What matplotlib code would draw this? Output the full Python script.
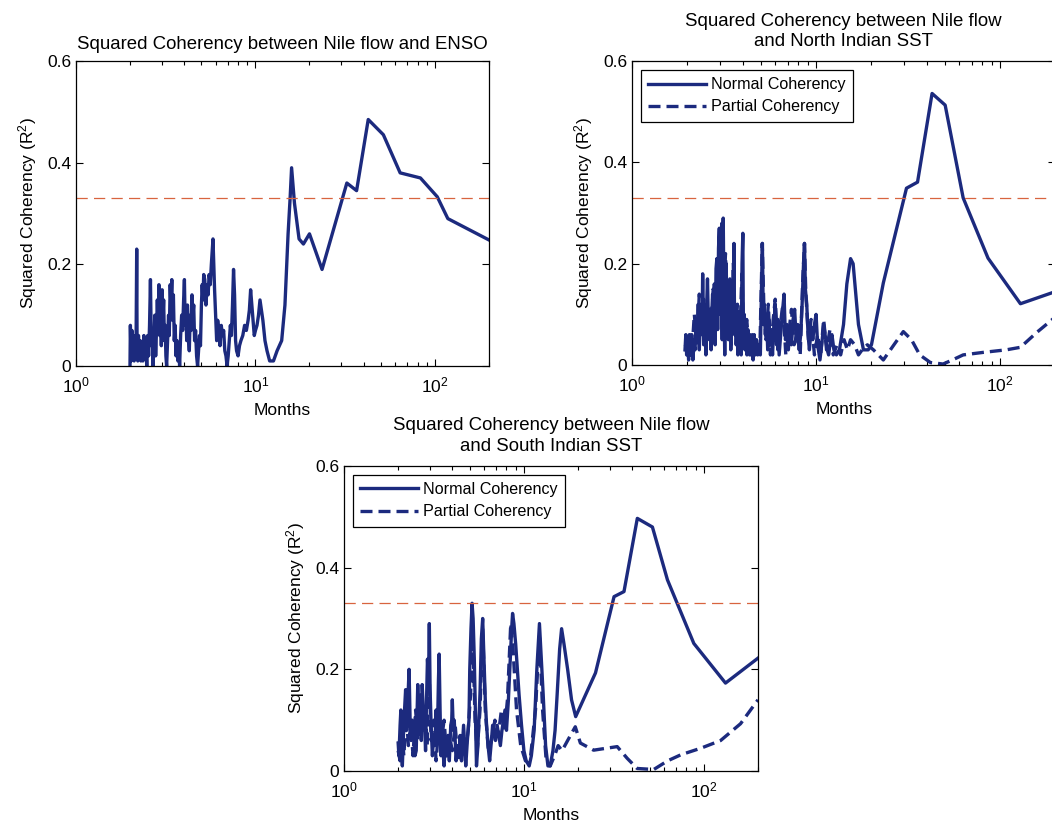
import matplotlib
matplotlib.use("Agg")
import matplotlib.pyplot as plt

plt.rcParams['font.family'] = ['Liberation Sans', 'DejaVu Sans']
plt.rcParams['mathtext.fontset'] = 'custom'
plt.rcParams['mathtext.rm'] = 'Liberation Sans'
plt.rcParams['mathtext.it'] = 'Liberation Sans'

NAVY = '#1c2a7e'
RED = '#d8643f'
SIG_LEVEL = 0.33

# (period in months, squared coherency)
# Nile flow vs ENSO
enso = [(2.00, 0.0), (2.01, 0.08), (2.03, 0.01), (2.05, 0.07), (2.07, 0.02), (2.09, 0.06),
        (2.11, 0.01), (2.13, 0.05), (2.16, 0.02), (2.18, 0.23), (2.19, 0.05), (2.21, 0.01),
        (2.23, 0.06), (2.25, 0.02), (2.28, 0.05), (2.30, 0.01), (2.33, 0.04), (2.36, 0.01),
        (2.39, 0.06), (2.42, 0.02), (2.45, 0.04), (2.48, 0.0), (2.51, 0.06), (2.54, 0.02),
        (2.57, 0.08), (2.60, 0.17), (2.63, 0.04), (2.66, 0.07), (2.69, 0.0), (2.72, 0.05),
        (2.75, 0.10), (2.78, 0.02), (2.81, 0.07), (2.84, 0.13), (2.87, 0.08), (2.90, 0.16),
        (2.93, 0.06), (2.96, 0.12), (2.99, 0.04), (3.02, 0.15), (3.05, 0.09), (3.08, 0.13),
        (3.11, 0.05), (3.14, 0.08), (3.17, 0.02), (3.20, 0.0), (3.24, 0.05), (3.28, 0.10),
        (3.31, 0.06), (3.35, 0.16), (3.38, 0.12), (3.42, 0.17), (3.45, 0.09), (3.49, 0.14),
        (3.53, 0.05), (3.57, 0.08), (3.61, 0.02), (3.65, 0.05), (3.70, 0.01), (3.74, 0.04),
        (3.78, 0.0), (3.83, 0.06), (3.88, 0.10), (3.93, 0.07), (3.98, 0.13), (4.02, 0.17),
        (4.06, 0.08), (4.10, 0.11), (4.14, 0.05), (4.18, 0.12), (4.23, 0.06), (4.28, 0.03),
        (4.33, 0.10), (4.38, 0.07), (4.43, 0.14), (4.48, 0.10), (4.53, 0.12), (4.58, 0.05),
        (4.64, 0.07), (4.70, 0.02), (4.76, 0.0), (4.82, 0.03), (4.88, 0.06), (4.94, 0.04),
        (5.00, 0.12), (5.05, 0.16), (5.10, 0.13), (5.15, 0.18), (5.22, 0.17), (5.30, 0.12),
        (5.38, 0.16), (5.45, 0.14), (5.52, 0.18), (5.60, 0.16), (5.68, 0.20), (5.75, 0.23),
        (5.80, 0.25), (5.85, 0.21), (5.92, 0.15), (6.00, 0.10), (6.08, 0.05), (6.16, 0.09),
        (6.25, 0.07), (6.35, 0.04), (6.45, 0.08), (6.55, 0.06), (6.65, 0.07), (6.75, 0.03),
        (6.85, 0.02), (6.95, 0.0), (7.05, 0.02), (7.15, 0.05), (7.25, 0.08), (7.35, 0.06),
        (7.45, 0.12), (7.55, 0.19), (7.65, 0.14), (7.75, 0.05), (7.85, 0.03), (8.0, 0.02),
        (8.15, 0.04), (8.3, 0.05), (8.5, 0.06), (8.7, 0.08), (8.9, 0.07), (9.1, 0.09),
        (9.25, 0.11), (9.4, 0.15), (9.55, 0.12), (9.7, 0.09), (9.85, 0.06), (10.0, 0.07),
        (10.2, 0.08), (10.4, 0.10), (10.6, 0.13), (10.8, 0.11), (11.0, 0.09), (11.3, 0.05),
        (11.6, 0.03), (12.0, 0.01), (12.6, 0.01), (13.2, 0.03), (14.0, 0.05), (14.6, 0.12),
        (15.2, 0.26), (15.6, 0.33), (15.9, 0.39), (16.5, 0.32), (17.5, 0.25), (18.5, 0.24),
        (20.0, 0.26), (23.5, 0.19), (32.3, 0.36), (36.6, 0.345), (42.5, 0.485), (51.6, 0.455),
        (64, 0.38), (83, 0.37), (103, 0.333), (118, 0.29), (200, 0.248)]

# Nile flow vs North Indian SST
ni_normal = [(1.94, 0.03), (1.96, 0.06), (1.98, 0.02), (2.00, 0.05), (2.03, 0.01), (2.05, 0.06),
             (2.08, 0.02), (2.11, 0.06), (2.14, 0.01), (2.17, 0.04), (2.20, 0.03), (2.23, 0.09),
             (2.26, 0.05), (2.29, 0.12), (2.32, 0.03), (2.34, 0.08), (2.37, 0.12), (2.40, 0.06),
             (2.42, 0.18), (2.45, 0.04), (2.47, 0.12), (2.49, 0.10), (2.52, 0.02), (2.55, 0.13),
             (2.57, 0.17), (2.60, 0.08), (2.63, 0.05), (2.66, 0.11), (2.69, 0.03), (2.71, 0.10),
             (2.74, 0.14), (2.77, 0.06), (2.80, 0.16), (2.83, 0.04), (2.86, 0.19), (2.89, 0.21),
             (2.92, 0.07), (2.95, 0.23), (2.98, 0.27), (3.01, 0.10), (3.04, 0.16), (3.06, 0.20),
             (3.09, 0.05), (3.11, 0.24), (3.13, 0.29), (3.16, 0.12), (3.19, 0.02), (3.22, 0.15),
             (3.25, 0.20), (3.28, 0.06), (3.31, 0.12), (3.34, 0.05), (3.37, 0.10), (3.40, 0.17),
             (3.44, 0.03), (3.47, 0.12), (3.51, 0.08), (3.55, 0.15), (3.58, 0.24), (3.61, 0.06),
             (3.65, 0.10), (3.68, 0.04), (3.72, 0.08), (3.76, 0.02), (3.80, 0.10), (3.84, 0.03),
             (3.88, 0.06), (3.92, 0.02), (3.96, 0.20), (4.00, 0.26), (4.03, 0.05), (4.07, 0.10),
             (4.11, 0.03), (4.16, 0.08), (4.21, 0.02), (4.26, 0.07), (4.31, 0.03), (4.37, 0.06),
             (4.43, 0.02), (4.49, 0.05), (4.55, 0.01), (4.61, 0.06), (4.68, 0.02), (4.75, 0.05),
             (4.82, 0.02), (4.90, 0.04), (4.98, 0.02), (5.05, 0.15), (5.11, 0.24), (5.17, 0.08),
             (5.23, 0.12), (5.30, 0.06), (5.38, 0.10), (5.46, 0.03), (5.54, 0.09), (5.62, 0.04),
             (5.70, 0.07), (5.80, 0.02), (5.90, 0.08), (6.00, 0.12), (6.10, 0.04), (6.20, 0.09),
             (6.30, 0.02), (6.42, 0.06), (6.55, 0.10), (6.70, 0.14), (6.82, 0.05), (6.95, 0.08),
             (7.07, 0.03), (7.20, 0.07), (7.35, 0.04), (7.50, 0.09), (7.65, 0.11), (7.80, 0.05),
             (7.95, 0.08), (8.10, 0.03), (8.25, 0.06), (8.40, 0.12), (8.55, 0.20), (8.65, 0.24),
             (8.75, 0.15), (8.90, 0.12), (9.05, 0.06), (9.20, 0.03), (9.40, 0.07), (9.60, 0.05),
             (9.80, 0.08), (10.0, 0.10), (10.2, 0.04), (10.5, 0.01), (10.8, 0.05), (11.0, 0.08),
             (11.2, 0.06), (11.5, 0.03), (11.7, 0.02), (12.0, 0.05), (12.2, 0.06), (12.5, 0.03),
             (12.9, 0.02), (13.4, 0.03), (14.1, 0.08), (14.7, 0.16), (15.4, 0.21), (15.9, 0.20),
             (17.0, 0.08), (18.1, 0.03), (19.2, 0.03), (20.0, 0.04), (23.2, 0.162), (31, 0.349),
             (35.6, 0.361), (42.7, 0.536), (50.3, 0.513), (63, 0.33), (86, 0.211), (129, 0.121),
             (200, 0.145)]
ni_partial = [(1.95, 0.04), (2.0, 0.02), (2.05, 0.05), (2.12, 0.03), (2.18, 0.10), (2.25, 0.04),
              (2.32, 0.14), (2.38, 0.07), (2.45, 0.13), (2.52, 0.04), (2.6, 0.11), (2.68, 0.06),
              (2.76, 0.15), (2.84, 0.08), (2.92, 0.19), (3.0, 0.10), (3.08, 0.28), (3.14, 0.12),
              (3.22, 0.22), (3.3, 0.09), (3.38, 0.14), (3.46, 0.04), (3.55, 0.20), (3.64, 0.06),
              (3.74, 0.12), (3.84, 0.03), (3.95, 0.18), (4.05, 0.05), (4.2, 0.09), (4.35, 0.02),
              (4.5, 0.06), (4.65, 0.03), (4.8, 0.05), (4.95, 0.03), (5.1, 0.24), (5.2, 0.12),
              (5.35, 0.05), (5.5, 0.12), (5.65, 0.02), (5.85, 0.09), (6.0, 0.13), (6.2, 0.03),
              (6.4, 0.08), (6.6, 0.12), (6.85, 0.02), (7.1, 0.06), (7.35, 0.11), (7.6, 0.04),
              (7.9, 0.06), (8.2, 0.02), (8.45, 0.16), (8.65, 0.24), (8.8, 0.14), (9.1, 0.05),
              (9.4, 0.09), (9.8, 0.02), (10.2, 0.06), (10.6, 0.02), (11.0, 0.09), (11.4, 0.03),
              (11.9, 0.07), (12.4, 0.02), (13.0, 0.04), (13.6, 0.02), (14.2, 0.05), (14.8, 0.03),
              (15.4, 0.05), (16.2, 0.04), (17.0, 0.02), (17.8, 0.03), (19.0, 0.04), (20.5, 0.03),
              (23.2, 0.01), (26.5, 0.04), (29.8, 0.066), (33, 0.05), (36.6, 0.02), (41.8, 0.005),
              (49, 0.002), (55, 0.01), (63, 0.02), (81, 0.025), (108, 0.03), (129, 0.035),
              (159, 0.065), (200, 0.095)]

# Nile flow vs South Indian SST
si_normal = [(2.0, 0.055), (2.02, 0.03), (2.05, 0.09), (2.07, 0.12), (2.09, 0.04), (2.11, 0.01),
             (2.14, 0.07), (2.17, 0.12), (2.2, 0.16), (2.23, 0.08), (2.26, 0.13), (2.3, 0.20),
             (2.33, 0.10), (2.36, 0.06), (2.40, 0.10), (2.45, 0.08), (2.48, 0.03), (2.52, 0.04),
             (2.55, 0.12), (2.57, 0.17), (2.61, 0.09), (2.65, 0.14), (2.69, 0.06), (2.72, 0.17),
             (2.76, 0.12), (2.8, 0.10), (2.84, 0.04), (2.88, 0.15), (2.91, 0.22), (2.95, 0.18),
             (2.98, 0.29), (3.01, 0.16), (3.05, 0.09), (3.1, 0.03), (3.15, 0.07), (3.2, 0.05),
             (3.25, 0.12), (3.3, 0.06), (3.35, 0.18), (3.38, 0.23), (3.42, 0.12), (3.46, 0.03),
             (3.5, 0.09), (3.55, 0.04), (3.6, 0.01), (3.66, 0.06), (3.72, 0.03), (3.78, 0.07),
             (3.85, 0.02), (3.92, 0.09), (3.97, 0.10), (4.0, 0.14), (4.05, 0.08), (4.1, 0.10),
             (4.15, 0.06), (4.2, 0.02), (4.27, 0.05), (4.35, 0.03), (4.42, 0.07), (4.5, 0.02),
             (4.55, 0.05), (4.62, 0.09), (4.7, 0.04), (4.75, 0.01), (4.85, 0.06), (4.95, 0.10),
             (5.0, 0.20), (5.08, 0.28), (5.15, 0.33), (5.22, 0.30), (5.3, 0.22), (5.37, 0.12),
             (5.45, 0.01), (5.55, 0.05), (5.62, 0.10), (5.7, 0.15), (5.8, 0.26), (5.9, 0.30),
             (6.0, 0.22), (6.1, 0.14), (6.2, 0.09), (6.32, 0.05), (6.45, 0.02), (6.6, 0.06),
             (6.7, 0.09), (6.8, 0.08), (6.95, 0.06), (7.1, 0.09), (7.25, 0.07), (7.4, 0.05),
             (7.55, 0.08), (7.7, 0.10), (7.85, 0.12), (8.0, 0.08), (8.2, 0.14), (8.4, 0.22),
             (8.55, 0.28), (8.65, 0.31), (8.8, 0.29), (9.0, 0.25), (9.2, 0.20), (9.4, 0.15),
             (9.7, 0.09), (10.0, 0.04), (10.3, 0.02), (10.7, 0.01), (11.0, 0.03), (11.4, 0.08),
             (11.8, 0.20), (12.2, 0.29), (12.5, 0.22), (12.8, 0.15), (13.2, 0.05), (13.6, 0.01),
             (14.0, 0.01), (14.5, 0.04), (14.9, 0.08), (15.3, 0.15), (15.8, 0.24), (16.2, 0.28),
             (16.7, 0.25), (17.5, 0.20), (18.4, 0.14), (19.4, 0.107), (25, 0.193), (31.7, 0.343),
             (36, 0.353), (42.7, 0.497), (51.8, 0.48), (62.8, 0.376), (88, 0.251), (132, 0.173),
             (200, 0.222)]
si_partial = [(2.0, 0.04), (2.05, 0.02), (2.1, 0.08), (2.15, 0.03), (2.22, 0.11), (2.28, 0.05),
              (2.35, 0.09), (2.42, 0.03), (2.5, 0.12), (2.58, 0.06), (2.66, 0.15), (2.74, 0.08),
              (2.82, 0.13), (2.9, 0.05), (2.97, 0.20), (3.05, 0.06), (3.15, 0.10), (3.25, 0.02),
              (3.35, 0.08), (3.45, 0.05), (3.6, 0.10), (3.72, 0.03), (3.85, 0.07), (4.0, 0.04),
              (4.15, 0.09), (4.3, 0.02), (4.5, 0.06), (4.7, 0.03), (4.9, 0.08), (5.05, 0.15),
              (5.2, 0.27), (5.35, 0.10), (5.5, 0.04), (5.7, 0.12), (5.9, 0.28), (6.1, 0.12),
              (6.35, 0.04), (6.6, 0.06), (6.9, 0.10), (7.2, 0.07), (7.5, 0.12), (7.8, 0.08),
              (8.1, 0.14), (8.45, 0.29), (8.7, 0.24), (9.1, 0.12), (9.6, 0.05), (10.2, 0.02),
              (10.9, 0.03), (11.6, 0.12), (12.2, 0.27), (12.7, 0.12), (13.3, 0.02), (14.0, 0.01),
              (14.8, 0.03), (15.5, 0.05), (16.3, 0.04), (17.5, 0.06), (19.3, 0.087), (20.6, 0.055),
              (24.4, 0.041), (29, 0.045), (33, 0.048), (37.5, 0.025), (42.6, 0.005), (52.7, 0.003),
              (62.9, 0.02), (74.6, 0.032), (96.5, 0.045), (124, 0.06), (160, 0.093), (200, 0.14)]


def style_axes(ax, title, pad):
    ax.set_xscale('log')
    ax.set_xlim(1, 200)
    ax.set_ylim(0, 0.6)
    ax.set_yticks([0, 0.2, 0.4, 0.6])
    ax.set_yticklabels(['0', '0.2', '0.4', '0.6'])
    ax.set_xticks([1, 10, 100])
    ax.set_xticklabels(['$10^{0}$', '$10^{1}$', '$10^{2}$'])
    ax.tick_params(which='both', direction='in', top=True, right=True, labelsize=12.5, width=0.8)
    ax.tick_params(which='major', length=5)
    ax.tick_params(which='minor', length=3)
    ax.tick_params(axis='x', pad=7)
    for s in ax.spines.values():
        s.set_linewidth(0.9)
    ax.set_title(title, fontsize=13.4, pad=pad, linespacing=1.25)
    ax.set_xlabel('Months', fontsize=12.5, labelpad=5)
    ax.set_ylabel('Squared Coherency (R$^2$)', fontsize=12.5, labelpad=6)
    ax.axhline(SIG_LEVEL, color=RED, lw=0.9, dashes=(9, 5))


def plot_series(ax, data, **kw):
    months = [p[0] for p in data]
    coh = [p[1] for p in data]
    ax.plot(months, coh, color=NAVY, lw=2.4, **kw)


def add_legend(ax):
    leg = ax.legend(['Normal Coherency', 'Partial Coherency'], loc='upper left', fontsize=11.6,
                    frameon=True, fancybox=False, framealpha=1, edgecolor='black',
                    handlelength=3.6, handletextpad=0.3, labelspacing=0.45,
                    borderaxespad=0.55, borderpad=0.45)
    leg.get_frame().set_linewidth(0.9)


fig = plt.figure(figsize=(10.52, 8.27), dpi=100)

ax1 = fig.add_axes([0.0722, 0.5574, 0.3926, 0.3688])
plot_series(ax1, enso)
style_axes(ax1, 'Squared Coherency between Nile flow and ENSO', 9)

ax2 = fig.add_axes([0.6008, 0.5586, 0.4025, 0.3676])
plot_series(ax2, ni_normal)
plot_series(ax2, ni_partial, dashes=(3.6, 1.8))
add_legend(ax2)
style_axes(ax2, 'Squared Coherency between Nile flow\nand North Indian SST', 11)

ax3 = fig.add_axes([0.327, 0.0677, 0.3935, 0.3688])
plot_series(ax3, si_normal)
plot_series(ax3, si_partial, dashes=(3.6, 1.8))
add_legend(ax3)
style_axes(ax3, 'Squared Coherency between Nile flow\nand South Indian SST', 11)

fig.savefig('out.png', dpi=100)
